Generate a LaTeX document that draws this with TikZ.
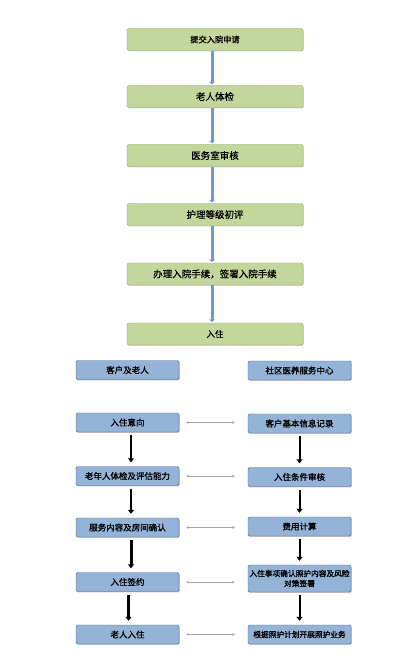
\documentclass[tikz,border=0pt]{standalone}
\usepackage{fontspec}
\setmainfont{Noto Sans CJK SC}
\newfontfamily\greenfont[FakeBold=0.6]{Noto Sans CJK SC}
\newfontfamily\bluefont[FakeBold=1.2]{Noto Sans CJK SC}
\usetikzlibrary{positioning}
\usetikzlibrary{shadows}
\usetikzlibrary{arrows.meta}

\definecolor{boxgreen}{HTML}{C3D69B}
\definecolor{linegreen}{HTML}{8FA95C}
\definecolor{boxblue}{HTML}{95B3D7}
\definecolor{lineblue}{HTML}{41648F}
\definecolor{arrowblue}{HTML}{6A9AD0}

\begin{document}
\begin{tikzpicture}[x=1pt,y=-1pt,
	greenbox/.style={draw=linegreen, fill=boxgreen, rounded corners=2pt, minimum width=176pt, minimum height=22pt, inner sep=1pt, font=\greenfont\fontsize{9.5}{11}\selectfont, drop shadow={shadow xshift=0.8pt, shadow yshift=-0.8pt, opacity=0.35}},
	bluebox/.style={draw=lineblue, fill=boxblue, rounded corners=1.5pt, minimum width=103pt, minimum height=19pt, inner sep=1pt, align=center, font=\bluefont\fontsize{8.5}{10}\selectfont, drop shadow={shadow xshift=0.8pt, shadow yshift=-0.8pt, opacity=0.45}},
	flow/.style={draw=arrowblue, line width=3pt, shorten >=1pt, -{Stealth[length=2.5pt,width=6pt]}},
	down/.style={line width=#1, shorten <=3pt, shorten >=4pt, -{Triangle[length=4pt,width=6pt]}},
	link/.style={draw=gray!70, line width=0.9pt, shorten <=7pt, shorten >=13pt, {Stealth[length=2.5pt,width=3pt]}-{Stealth[length=2.5pt,width=3pt]}}]
	\useasboundingbox (0,0) rectangle (419,655);
	% admission steps
	\node[greenbox, font=\greenfont\fontsize{8.2}{10}\selectfont] (apply) at (215,39.5) {提交入院申请};
	\node[greenbox] (exam) at (215,96.5) {老人体检};
	\node[greenbox] (clinic) at (215,155.5) {医务室审核};
	\node[greenbox] (grade) at (215,214.5) {护理等级初评};
	\node[greenbox] (sign) at (215,274) {办理入院手续，签署入院手续};
	\node[greenbox, font=\greenfont\fontsize{8.5}{10}\selectfont] (enter) at (215,334) {入住};
	\foreach \a/\b in {apply/exam, exam/clinic, clinic/grade, grade/sign, sign/enter}
		\draw[flow] ([xshift=-3pt]\a.south) -- ([xshift=-3pt]\b.north);
	% client side and service centre
	\node[bluebox] (client) at (127.5,370) {客户及老人};
	\node[bluebox] (centre) at (299.5,370.5) {社区医养服务中心};
	\node[bluebox] (intent) at (127.5,422.5) {入住意向};
	\node[bluebox] (record) at (299.5,423.5) {客户基本信息记录};
	\node[bluebox] (assess) at (127.5,476) {老年人体检及评估能力};
	\node[bluebox] (check) at (299.5,477) {入住条件审核};
	\node[bluebox] (room) at (127.5,527.5) {服务内容及房间确认};
	\node[bluebox] (fee) at (299.5,526.5) {费用计算};
	\node[bluebox] (contract) at (127.5,582) {入住签约};
	\node[bluebox, minimum height=27pt, font=\bluefont\fontsize{7.7}{10}\selectfont] (confirm) at (299.5,578.5) {入住事项确认照护内容及风险\\对策签署};
	\node[bluebox] (movein) at (127.5,634.5) {老人入住};
	\node[bluebox, font=\bluefont\fontsize{7.7}{10}\selectfont] (care) at (299.5,634.5) {根据照护计划开展照护业务};
	\draw[down=2pt] ([xshift=3.5pt]intent.south) -- ([xshift=3.5pt]assess.north);
	\draw[down=2.4pt] ([xshift=3.5pt]assess.south) -- ([xshift=3.5pt]room.north);
	\draw[down=3pt] ([xshift=3.5pt]room.south) -- ([xshift=3.5pt]contract.north);
	\draw[down=3.8pt] ([xshift=1pt]contract.south) -- ([xshift=1pt]movein.north);
	\draw[down=2pt] (record) -- (check);
	\draw[down=2pt] (check) -- (fee);
	\draw[down=2pt] (fee) -- (confirm);
	\draw[down=2pt] (confirm) -- (care);
	\draw[link] (intent.east) -- (intent.east -| record.west);
	\draw[link] (assess.east) -- (assess.east -| check.west);
	\draw[link] (room.east) -- (room.east -| fee.west);
	\draw[link] (contract.east) -- (contract.east -| confirm.west);
	\draw[link] (movein.east) -- (movein.east -| care.west);
\end{tikzpicture}
\end{document}
